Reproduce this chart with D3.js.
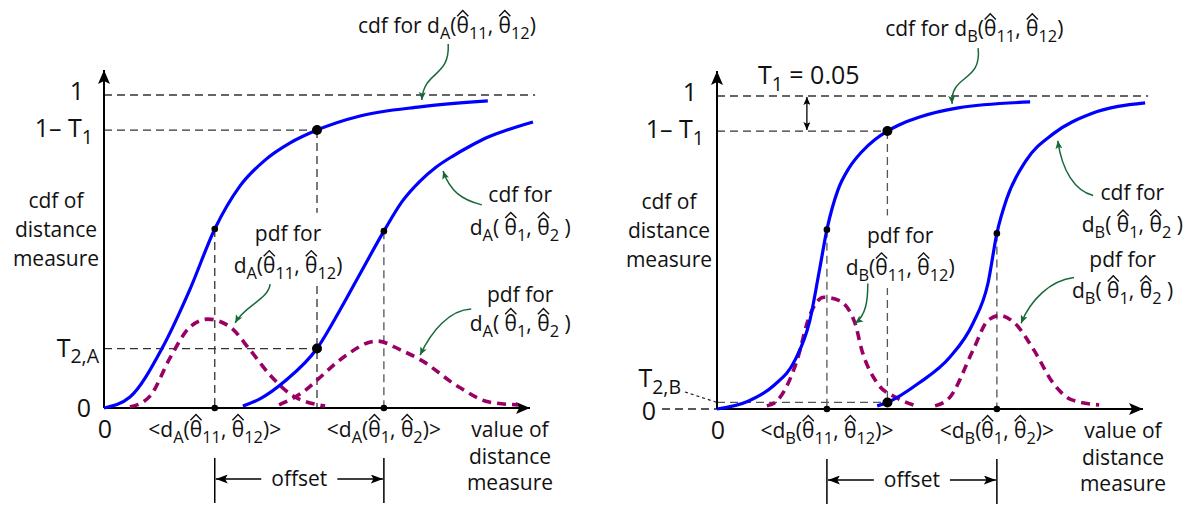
<!DOCTYPE html>
<html>
<head>
<meta charset="utf-8">
<script src="https://cdn.jsdelivr.net/npm/d3@7"></script>
<style>
  html, body { margin: 0; padding: 0; background: #fff; }
  svg { display: block; font-family: "Open Sans", sans-serif; }
  text { white-space: pre; fill: #111; }
</style>
</head>
<body>
<svg id="chart" width="1191" height="508"></svg>
<script>
// Values in axis units: x = value of distance measure (0..10), y = cumulative probability (0..1)
const oneMinusT1 = 0.888;
const t2Values = [0.19, 0.021];          // T2,A and T2,B
const thresholdX = [5.0, 4.0];           // where the near cdf reaches 1 - T1
const meanNear = [2.6, 2.58];            // <d(θ11, θ12)>
const meanFar = [6.57, 6.57];            // <d(θ1, θ2)>

// distance measure A
const cdfNearA = [[0,0],[0.61,0.035],[1.36,0.19],[2.02,0.38],[2.6,0.572],[3.19,0.709],[3.78,0.792],[4.37,0.847],[5.0,0.888],[6.01,0.933],[7.42,0.962],[9.01,0.981]];
const cdfFarA  = [[3.26,0.006],[3.66,0.029],[4.25,0.086],[5.0,0.19],[5.54,0.313],[6.06,0.441],[6.57,0.565],[7.0,0.66],[7.42,0.725],[7.8,0.77],[8.19,0.805],[8.6,0.837],[8.99,0.864],[9.5,0.89],[10.07,0.914]];
const pdfNearA = [[0.61,0.003],[1.08,0.038],[1.55,0.16],[2.02,0.259],[2.44,0.284],[2.96,0.259],[3.43,0.185],[3.9,0.105],[4.37,0.045],[5.19,0.006]];
const pdfFarA  = [[4.11,0.01],[4.74,0.058],[5.0,0.089],[5.63,0.163],[6.41,0.214],[6.97,0.185],[7.44,0.153],[8.33,0.067],[9.04,0.019],[9.72,0.01]];

// distance measure B
const cdfNearB = [[0,0],[0.73,0.025],[1.34,0.076],[1.83,0.156],[2.18,0.283],[2.4,0.44],[2.58,0.573],[2.84,0.70],[3.1,0.77],[3.4,0.822],[3.71,0.861],[4.0,0.888],[4.35,0.912],[4.74,0.932],[5.66,0.962],[7.35,0.981]];
const cdfFarB  = [[3.76,0.01],[4.0,0.021],[4.74,0.083],[5.47,0.166],[6.01,0.274],[6.36,0.401],[6.57,0.561],[6.81,0.675],[7.25,0.793],[7.89,0.879],[8.78,0.943],[10.05,0.978]];
const pdfNearB = [[1.17,0.01],[1.43,0.029],[1.88,0.156],[2.16,0.293],[2.51,0.357],[2.86,0.347],[3.24,0.274],[3.4,0.188],[3.76,0.083],[4.23,0.035],[4.67,0.01]];
const pdfFarB  = [[5.12,0.01],[5.47,0.038],[6.01,0.188],[6.36,0.283],[6.64,0.299],[6.99,0.274],[7.44,0.188],[7.89,0.083],[8.33,0.029],[8.97,0.013]];

// Tick labels ( _{..} = subscript, ^θ = θ with a hat )
const tickLabelsA = ["1", "1– T_{1}", "T_{2,A}", "0"];
const tickLabelsB = ["1", "1– T_{1}", "T_{2,B}", "0"];
const t1Text = "T_{1} = 0.05";

// ---------------------------------------------------------------
const svg = d3.select("#chart");
const defs = svg.append("defs");
const BLUE = "#0000ff", PURPLE = "#990066", GREEN = "#17693a", DASH = "#333";

function makeMarker(id, color, len, wid) {
  defs.append("marker").attr("id", id)
    .attr("viewBox", `0 0 ${len} ${wid}`)
    .attr("refX", len).attr("refY", wid / 2)
    .attr("markerWidth", len).attr("markerHeight", wid)
    .attr("markerUnits", "userSpaceOnUse")
    .attr("orient", "auto-start-reverse")
    .append("path")
    .attr("d", `M0,0L${len},${wid / 2}L0,${wid}L${len * 0.22},${wid / 2}Z`)
    .attr("fill", color);
}
makeMarker("axisHead", "#000", 14, 12);
makeMarker("greenHead", GREEN, 8, 7);
makeMarker("blackHead", "#000", 12, 9);
makeMarker("smallHead", "#000", 8, 7);

function parseRich(str) {
  const segs = [];
  let buf = "", i = 0;
  const flush = () => { if (buf) { segs.push({ t: buf, k: "n" }); buf = ""; } };
  while (i < str.length) {
    const c = str[i];
    if (c === "_" && str[i + 1] === "{") {
      flush();
      const j = str.indexOf("}", i);
      segs.push({ t: str.slice(i + 2, j), k: "s" });
      i = j + 1;
    } else if (c === "^") {
      flush();
      segs.push({ t: str[i + 1], k: "h" });
      i += 2;
    } else { buf += c; i++; }
  }
  flush();
  return segs;
}

// text with subscripts; hats are drawn as small strokes over the marked letters
function richText(g, x, y, str, size, anchor) {
  const segs = parseRich(str);
  const text = g.append("text")
    .attr("x", x).attr("y", y)
    .attr("font-size", size)
    .attr("text-anchor", anchor || "middle");
  const drop = size * 0.27;
  let low = false;
  segs.forEach(s => {
    const ts = text.append("tspan").text(s.t);
    if (s.k === "s") {
      ts.attr("font-size", size * 0.78);
      if (!low) { ts.attr("dy", drop); low = true; }
    } else if (low) { ts.attr("dy", -drop); low = false; }
  });
  const node = text.node();
  let idx = 0;
  segs.forEach(s => {
    if (s.k === "h") {
      const ext = node.getExtentOfChar(idx);
      const base = node.getStartPositionOfChar(idx).y;
      const cx = ext.x + ext.width / 2, w = ext.width * 0.45;
      const yb = base - size * 0.80, ya = yb - size * 0.27;
      g.append("path")
        .attr("d", `M${cx - w},${yb}L${cx},${ya}L${cx + w},${yb}`)
        .attr("fill", "none").attr("stroke", "#111").attr("stroke-width", 1.4);
    }
    idx += s.t.length;
  });
  return text;
}

const panels = [
  { ox: 104, oy: 408, sub: "A", cdfNear: cdfNearA, cdfFar: cdfFarA, pdfNear: pdfNearA, pdfFar: pdfFarA,
    ticks: tickLabelsA, t2: t2Values[0], thr: thresholdX[0], mNear: meanNear[0], mFar: meanFar[0],
    notes: {
      cdfNear: { at: [8.05, 1.198], arrow: [[8.08,1.163],[8.12,1.054],[7.51,1.080],[7.46,0.984]] },
      cdfFar:  { at: [9.77, 0.658, 0.553], arrow: [[8.87,0.649],[8.40,0.665],[8.12,0.693],[7.96,0.757]] },
      pdfNear: { at: [4.32, 0.534, 0.431], arrow: [[3.90,0.396],[3.85,0.345],[3.31,0.329],[3.08,0.272]] },
      pdfFar:  { at: [9.77, 0.339, 0.246], arrow: [[8.62,0.316],[8.12,0.313],[7.70,0.249],[7.42,0.169]] }
    } },
  { ox: 717, oy: 409, sub: "B", cdfNear: cdfNearB, cdfFar: cdfFarB, pdfNear: pdfNearB, pdfFar: pdfFarB,
    ticks: tickLabelsB, t2: t2Values[1], thr: thresholdX[1], mNear: meanNear[1], mFar: meanFar[1],
    notes: {
      cdfNear: { at: [6.04, 1.191], arrow: [[6.13,1.153],[6.22,1.041],[5.47,1.072],[5.52,0.975]] },
      cdfFar:  { at: [9.75, 0.669, 0.564], arrow: [[8.83,0.682],[8.40,0.697],[8.10,0.761],[8.0,0.857]] },
      pdfNear: { at: [4.30, 0.529, 0.427], arrow: [[3.54,0.401],[3.54,0.347],[3.50,0.299],[3.24,0.274]] },
      pdfFar:  { at: [9.52, 0.455, 0.354], arrow: [[8.38,0.420],[7.82,0.411],[7.35,0.347],[7.14,0.274]] }
    } }
];

const FS = 21, TS = 25;

panels.forEach((p, pi) => {
  const x = d3.scaleLinear().domain([0, 10]).range([p.ox, p.ox + 426]);
  const y = d3.scaleLinear().domain([0, 1]).range([p.oy, p.oy - 313]);
  const g = svg.append("g");
  const gDash = g.append("g"), gBg = g.append("g"), gAxis = g.append("g"),
        gCurve = g.append("g"), gMark = g.append("g"), gText = g.append("g");

  const valAt = (arr, u) => arr.find(d => d[0] === u)[1];
  const cNear = valAt(p.cdfNear, p.mNear), cFar = valAt(p.cdfFar, p.mFar);

  const dash = (x1, y1, x2, y2, color) => gDash.append("line")
    .attr("x1", x1).attr("y1", y1).attr("x2", x2).attr("y2", y2)
    .attr("stroke", color || DASH).attr("stroke-width", 1.3).attr("stroke-dasharray", "8,5");

  // reference lines
  dash(x(0), y(1), x(10.12), y(1));
  dash(x(0), y(oneMinusT1), x(p.thr), y(oneMinusT1));
  dash(x(0), y(p.t2), x(p.thr), y(p.t2), pi ? "#555" : DASH);
  dash(x(p.thr), y(oneMinusT1), x(p.thr), y(pi ? p.t2 : 0), pi ? "#555" : DASH);
  dash(x(p.mNear), y(cNear), x(p.mNear), y(0), pi ? "#555" : DASH);
  dash(x(p.mFar), y(cFar), x(p.mFar), y(0), "#555");

  // axes
  gAxis.append("line").attr("x1", x(0)).attr("y1", y(0)).attr("x2", x(0)).attr("y2", y(1.08))
    .attr("stroke", "#000").attr("stroke-width", 2).attr("marker-end", "url(#axisHead)");
  gAxis.append("line").attr("x1", x(0)).attr("y1", y(0)).attr("x2", x(10)).attr("y2", y(0))
    .attr("stroke", "#000").attr("stroke-width", 2).attr("marker-end", "url(#axisHead)");

  // curves
  const line = d3.line().x(d => x(d[0])).y(d => y(d[1])).curve(d3.curveMonotoneX);
  [p.pdfNear, p.pdfFar].forEach(arr => gCurve.append("path").attr("d", line(arr))
    .attr("fill", "none").attr("stroke", PURPLE).attr("stroke-width", 3.6)
    .attr("stroke-dasharray", "9,6"));
  [p.cdfNear, p.cdfFar].forEach(arr => gCurve.append("path").attr("d", line(arr))
    .attr("fill", "none").attr("stroke", BLUE).attr("stroke-width", 3.2));

  // points
  const dot = (u, v, r) => gMark.append("circle").attr("cx", x(u)).attr("cy", y(v)).attr("r", r).attr("fill", "#000");
  dot(p.thr, oneMinusT1, 5);
  dot(p.thr, p.t2, 5);
  dot(p.mNear, cNear, 3.3);
  dot(p.mFar, cFar, 3.3);
  dot(p.mNear, 0, 3.3);
  dot(p.mFar, 0, 3.3);

  // tick labels
  if (pi === 0) {
    richText(gText, x(0) - 20, y(1) + 5, p.ticks[0], TS, "end");
    richText(gText, x(0) - 11, y(oneMinusT1) + 7, p.ticks[1], TS, "end");
    richText(gText, x(0) - 5, y(p.t2) + 8, p.ticks[2], TS, "end");
    richText(gText, x(0) - 13, y(0) + 9, p.ticks[3], TS, "end");
  } else {
    richText(gText, x(0) - 20, y(1) + 5, p.ticks[0], TS, "end");
    richText(gText, x(0) - 13, y(oneMinusT1) + 7, p.ticks[1], TS, "end");
    richText(gText, x(0) - 36, y(0) - 22, p.ticks[2], TS, "end");
    richText(gText, x(0) - 61, y(0) + 11, p.ticks[3], TS, "end");
    gDash.append("line").attr("x1", x(0) - 32).attr("y1", y(0) - 17).attr("x2", x(0)).attr("y2", y(p.t2))
      .attr("stroke", "#222").attr("stroke-width", 1.2).attr("stroke-dasharray", "3,3");
    dash(x(0) - 55, y(0), x(0), y(0), "#222");
    // T1 gap between 1 and 1 - T1
    gMark.append("line").attr("x1", x(2.11)).attr("y1", y(1) + 1).attr("x2", x(2.11)).attr("y2", y(oneMinusT1) - 1)
      .attr("stroke", "#000").attr("stroke-width", 1.3)
      .attr("marker-start", "url(#smallHead)").attr("marker-end", "url(#smallHead)");
    richText(gText, x(0.96), y(1) - 12, t1Text, TS, "start");
  }
  richText(gText, x(0) + 1, y(0) + 30, "0", TS, "middle");

  // axis titles
  ["cdf of", "distance", "measure"].forEach((t, i) =>
    richText(gText, x(0) - 48, y(0) - 200 + i * 29, t, FS, "middle"));
  ["value of", "distance", "measure"].forEach((t, i) =>
    richText(gText, x(10) - 20, y(0) + 29 + i * 26.5, t, FS, "middle"));

  // mean labels
  const s = p.sub;
  richText(gText, x(p.mNear), y(0) + 29, `<d_{${s}}(^θ_{11}, ^θ_{12})>`, FS, "middle");
  richText(gText, x(p.mFar), y(0) + 29, `<d_{${s}}(^θ_{1}, ^θ_{2})>`, FS, "middle");

  // offset between the two means
  const oy = y(0) + 71;
  [p.mNear, p.mFar].forEach(u => gMark.append("line")
    .attr("x1", x(u)).attr("y1", y(0) + 50).attr("x2", x(u)).attr("y2", y(0) + 95)
    .attr("stroke", "#000").attr("stroke-width", 1.5));
  const mid = (x(p.mNear) + x(p.mFar)) / 2;
  const off = richText(gText, mid, oy + 7, "offset", FS, "middle");
  const hw = off.node().getComputedTextLength() / 2 + 10;
  gMark.append("line").attr("x1", mid - hw).attr("y1", oy).attr("x2", x(p.mNear) + 1).attr("y2", oy)
    .attr("stroke", "#000").attr("stroke-width", 1.5).attr("marker-end", "url(#blackHead)");
  gMark.append("line").attr("x1", mid + hw).attr("y1", oy).attr("x2", x(p.mFar) - 1).attr("y2", oy)
    .attr("stroke", "#000").attr("stroke-width", 1.5).attr("marker-end", "url(#blackHead)");

  // annotations with curved pointers
  const n = p.notes;
  const pointer = a => gMark.append("path")
    .attr("d", `M${x(a[0][0])},${y(a[0][1])}C${x(a[1][0])},${y(a[1][1])} ${x(a[2][0])},${y(a[2][1])} ${x(a[3][0])},${y(a[3][1])}`)
    .attr("fill", "none").attr("stroke", GREEN).attr("stroke-width", 1.5).attr("marker-end", "url(#greenHead)");

  richText(gText, x(n.cdfNear.at[0]), y(n.cdfNear.at[1]), `cdf for d_{${s}}(^θ_{11}, ^θ_{12})`, FS, "middle");
  pointer(n.cdfNear.arrow);

  richText(gText, x(n.cdfFar.at[0]), y(n.cdfFar.at[1]), "cdf for", FS, "middle");
  richText(gText, x(n.cdfFar.at[0]), y(n.cdfFar.at[2]), `d_{${s}}( ^θ_{1}, ^θ_{2} )`, FS, "middle");
  pointer(n.cdfFar.arrow);

  const l1 = richText(gText, x(n.pdfNear.at[0]), y(n.pdfNear.at[1]), "pdf for", FS, "middle");
  const l2 = richText(gText, x(n.pdfNear.at[0]), y(n.pdfNear.at[2]), `d_{${s}}(^θ_{11}, ^θ_{12})`, FS, "middle");
  const b1 = l1.node().getBBox(), b2 = l2.node().getBBox();
  const bx0 = Math.min(b1.x, b2.x), bx1 = Math.max(b1.x + b1.width, b2.x + b2.width);
  gBg.append("rect").attr("x", bx0 - 2).attr("y", b1.y - 6).attr("width", bx1 - bx0 + 4)
    .attr("height", b2.y + b2.height - b1.y + 8).attr("fill", "#fff");
  pointer(n.pdfNear.arrow);

  richText(gText, x(n.pdfFar.at[0]), y(n.pdfFar.at[1]), "pdf for", FS, "middle");
  richText(gText, x(n.pdfFar.at[0]), y(n.pdfFar.at[2]), `d_{${s}}( ^θ_{1}, ^θ_{2} )`, FS, "middle");
  pointer(n.pdfFar.arrow);
});
</script>
</body>
</html>
